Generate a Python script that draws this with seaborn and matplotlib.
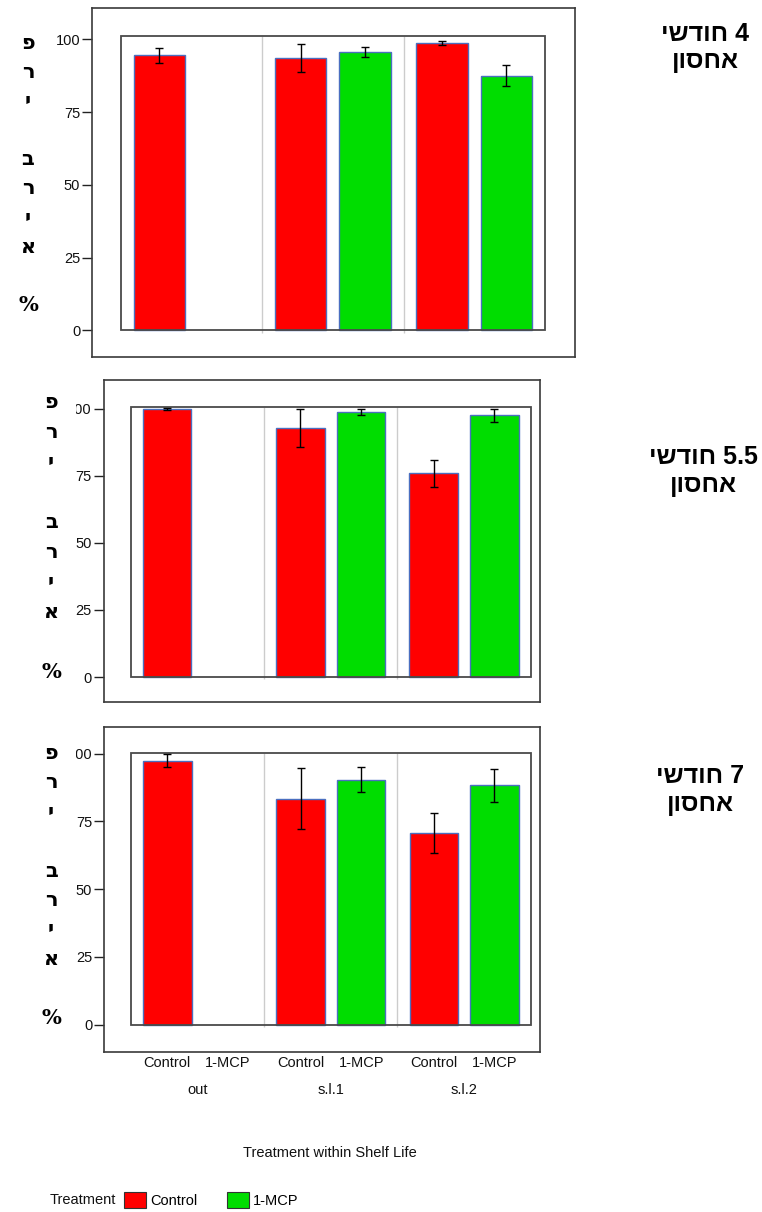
import numpy as np
import pandas as pd
import matplotlib
matplotlib.use("Agg")
import matplotlib.pyplot as plt
from matplotlib.patches import Patch, Rectangle
from matplotlib.transforms import Bbox, TransformedBbox, blended_transform_factory
import seaborn as sns

# ---- data -------------------------------------------------------------
shelf_life = ["out", "s.l.1", "s.l.2"]
treatments = ["Control", "1-MCP"]
storage_labels = [("4 חודשי", "אחסון"), ("5.5 חודשי", "אחסון"), ("7 חודשי", "אחסון")]
y_label = "פרי בריא %"
x_title = "Treatment within Shelf Life"
legend_title = "Treatment"
y_ticks = [0, 25, 50, 75, 100]

# percent healthy fruit (mean) and its error, per storage period
control_4 = [94.5, 93.5, 98.6]
control_4_err = [2.6, 4.85, 0.7]
mcp_4 = [np.nan, 95.7, 87.5]
mcp_4_err = [np.nan, 1.8, 3.65]

control_55 = [100.0, 92.7, 75.9]
control_55_err = [0.3, 7.1, 5.0]
mcp_55 = [np.nan, 98.8, 97.6]
mcp_55_err = [np.nan, 1.1, 2.4]

control_7 = [97.4, 83.4, 70.7]
control_7_err = [2.25, 11.4, 7.4]
mcp_7 = [np.nan, 90.4, 88.3]
mcp_7_err = [np.nan, 4.55, 6.15]

periods = [
    (control_4, control_4_err, mcp_4, mcp_4_err),
    (control_55, control_55_err, mcp_55, mcp_55_err),
    (control_7, control_7_err, mcp_7, mcp_7_err),
]

# ---- style --------------------------------------------------------------
sns.set_theme(style="white")
plt.rcParams["font.family"] = ["Liberation Sans", "DejaVu Sans"]
plt.rcParams["text.color"] = "black"
plt.rcParams["ytick.color"] = "black"
plt.rcParams["ytick.labelcolor"] = "black"
palette = {"Control": "#ff0000", "1-MCP": "#00dd00"}
BAR_EDGE = "#4a6fc0"
BAR_WIDTH = 0.91
BAR_GAP = 0.2

W, H = 762, 1212
fig = plt.figure(figsize=(W / 100, H / 100), dpi=100)
fig.patch.set_facecolor("white")

# panel frames in pixels (x0, x1, y_top, y_bottom), axis limits, inner frame top
layout = [
    dict(box=(92, 575, 7.5, 357), xlim=(-0.703, 2.712), ylim=(-9.1, 110.9), top=101.0,
         ylab_x=28, ylab_y=43, ylab_step=29.1, title_x=705, title_y=(34, 61)),
    dict(box=(103.5, 540, 380, 702), xlim=(-0.704, 2.57), ylim=(-9.3, 110.7), top=100.5,
         ylab_x=51, ylab_y=402, ylab_step=30.0, title_x=703, title_y=(457, 485)),
    dict(box=(104, 540, 726.7, 1052), xlim=(-0.703, 2.57), ylim=(-10.1, 109.9), top=100.2,
         ylab_x=51, ylab_y=753, ylab_step=29.4, title_x=700, title_y=(776, 804)),
]


def visual(s):
    """Hebrew runs drawn left-to-right need their characters reversed."""
    return s[::-1]


axes = []
for i, (lay, (c, ce, m, me)) in enumerate(zip(layout, periods)):
    x0, x1, yt, yb = lay["box"]
    ax = fig.add_axes([x0 / W, 1 - yb / H, (x1 - x0) / W, (yb - yt) / H])
    axes.append(ax)

    rows = []
    errs = {}
    for k, s in enumerate(shelf_life):
        for t, vals, ev in (("Control", c, ce), ("1-MCP", m, me)):
            if not np.isnan(vals[k]):
                rows.append(dict(shelf=s, treatment=t, pct=vals[k]))
                errs[(s, t)] = ev[k]
    df = pd.DataFrame(rows)

    sns.barplot(data=df, x="shelf", y="pct", hue="treatment", order=shelf_life,
                hue_order=treatments, palette=palette, saturation=1, width=BAR_WIDTH,
                gap=BAR_GAP, errorbar=None, edgecolor=BAR_EDGE, linewidth=1.0,
                legend=False, ax=ax, zorder=2)

    # error bars on top of each bar
    for p in ax.patches:
        xc = p.get_x() + p.get_width() / 2
        g = int(round(xc))
        t = treatments[0] if xc < g else treatments[1]
        e = errs[(shelf_life[g], t)]
        ax.errorbar(xc, p.get_height(), yerr=e, fmt="none", ecolor="black",
                    elinewidth=1.0, capsize=2.6, capthick=1.0, zorder=4)

    # plotting frame and group separators
    ax.add_patch(Rectangle((-0.5, 0), 3, lay["top"], fill=False, edgecolor="#4a4a4a",
                           linewidth=1.3, zorder=3))
    ax.vlines([0.5, 1.5], -0.8, lay["top"], color="#cccccc", linewidth=1.0, zorder=1)

    ax.set_xlim(*lay["xlim"])
    ax.set_ylim(*lay["ylim"])
    ax.set_yticks(y_ticks)
    ax.set_yticklabels([str(v) for v in y_ticks])
    ax.set_xticks([])
    ax.set_xlabel("")
    ax.set_ylabel("")
    for sp in ax.spines.values():
        sp.set_visible(True)
        sp.set_color("#3a3a3a")
        sp.set_linewidth(1.2)
    ax.tick_params(axis="y", direction="out", length=7, width=1.0, color="#222222",
                   labelsize=10.5, pad=1.5, left=True, labelcolor="#111111")

    if i > 0:
        # the leading digit of "100" falls outside the printable strip
        clip = TransformedBbox(Bbox([[75.5 / W, 0], [1, 1]]), fig.transFigure)
        top_label = ax.get_yticklabels()[-1]
        top_label.set_clip_on(True)
        top_label.set_clip_box(clip)

    # vertical stacked axis label
    for j, ch in enumerate(y_label):
        if ch == " ":
            continue
        fig.text(lay["ylab_x"] / W, 1 - (lay["ylab_y"] + j * lay["ylab_step"]) / H, ch,
                 ha="center", va="center", fontsize=15, fontweight="heavy",
                 family=["DejaVu Serif", "DejaVu Sans"])

    # storage period heading
    for line, yy in zip(storage_labels[i], lay["title_y"]):
        fig.text(lay["title_x"] / W, 1 - yy / H, visual(line), ha="center", va="center",
                 fontsize=18, fontweight="bold", family=["Liberation Sans", "DejaVu Sans"])

# two-level category labels under the last panel
ax3 = axes[-1]
tr = blended_transform_factory(ax3.transData, fig.transFigure)
off = BAR_WIDTH / 4
for g, s in enumerate(shelf_life):
    for t, dx in zip(treatments, (-off, off)):
        ax3.text(g + dx, 1 - 1063 / H, t, transform=tr, ha="center", va="center",
                 fontsize=10.5, color="#111111", clip_on=False)
    ax3.text(g, 1 - 1090 / H, s, transform=tr, ha="center", va="center",
             fontsize=10.5, color="#111111", clip_on=False)

fig.text(330 / W, 1 - 1153 / H, x_title, ha="center", va="center", fontsize=10.5,
         color="#111111")

# legend row
fig.text(50 / W, 1 - 1200 / H, legend_title, ha="left", va="center", fontsize=10.5,
         color="#111111")
handles = [Patch(facecolor=palette[t], edgecolor="#333333", linewidth=0.8, label=t)
           for t in treatments]
fig.legend(handles=handles, loc="center left", bbox_to_anchor=(124 / W, 1 - 1200 / H),
           ncol=2, frameon=False, fontsize=10.5, handlelength=1.5, handleheight=1.4,
           handletextpad=0.3, columnspacing=2.0, borderpad=0, borderaxespad=0)

fig.savefig("out.png", dpi=100, facecolor="white")
